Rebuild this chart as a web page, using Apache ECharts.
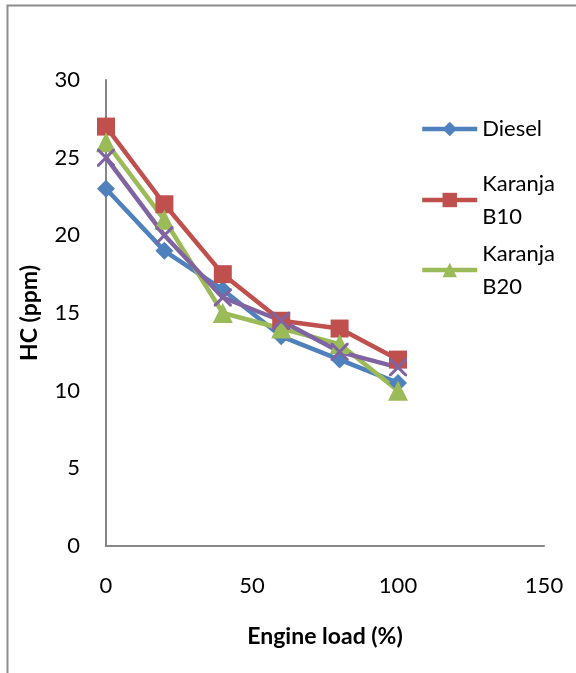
<!DOCTYPE html>
<html>
<head>
<meta charset="utf-8">
<script src="https://cdn.jsdelivr.net/npm/echarts@6/dist/echarts.min.js"></script>
<style>
  html, body { margin: 0; padding: 0; background: #fff; }
  #chart { width: 576px; height: 673px; }
</style>
</head>
<body>
<div id="chart"></div>
<script>
// Engine load (%) on the x axis
const loads = [0, 20, 40, 60, 80, 100];

// HC emissions (ppm) per fuel
const diesel = [23, 19, 16.5, 13.5, 12, 10.5];
const karanjaB10 = [27, 22, 17.5, 14.5, 14, 12];
const karanjaB20 = [26, 21, 15, 14, 13, 10];
const karanjaB30 = [25, 20, 16, 14.5, 12.5, 11.5];

const FONT = 'Lato';
const AXIS_GREY = '#868686';

const pairs = (ys) => loads.map((x, i) => [x, ys[i]]);

// thin "x" cross marker
const crossPath = 'path://M0,0L1.2,0L5,3.8L8.8,0L10,0L10,1.2L6.2,5L10,8.8L10,10L8.8,10L5,6.2L1.2,10L0,10L0,8.8L3.8,5L0,1.2Z';

function lineSeries(name, data, color, symbol, size) {
  return {
    name: name,
    type: 'line',
    data: pairs(data),
    symbol: symbol,
    symbolSize: size,
    showAllSymbol: true,
    lineStyle: { color: color, width: 4.5 },
    itemStyle: { color: color },
    emphasis: { disabled: true },
    animation: false
  };
}

function legendBlock(name, top, twoLines) {
  return {
    orient: 'vertical',
    left: 420,
    top: top,
    padding: 0,
    itemWidth: 55,
    itemHeight: 18,
    itemGap: 0,
    selectedMode: false,
    data: [name],
    lineStyle: { width: 4.5 },
    formatter: (n) => twoLines ? n.replace(' ', '\n') : n,
    textStyle: {
      fontFamily: FONT,
      fontSize: 22,
      color: '#000',
      lineHeight: 33,
      padding: twoLines ? [33, 0, 0, 0] : 0
    }
  };
}

const chart = echarts.init(document.getElementById('chart'), null, { renderer: 'canvas' });

chart.setOption({
  backgroundColor: '#fff',
  animation: false,
  graphic: [{
    type: 'rect',
    silent: true,
    shape: { x: 7.5, y: 5.5, width: 700, height: 800 },
    style: { fill: 'none', stroke: '#8c8c8c', lineWidth: 2 }
  }],
  grid: { left: 106, top: 80, right: 32, bottom: 127, containLabel: false },
  legend: [
    legendBlock('Diesel', 112.5, false),
    legendBlock('Karanja B10', 150.5, true),
    legendBlock('Karanja B20', 220.5, true)
  ],
  xAxis: {
    type: 'value',
    min: 0,
    max: 150,
    interval: 50,
    name: 'Engine load (%)',
    nameLocation: 'middle',
    nameGap: 79,
    nameTextStyle: { fontFamily: FONT, fontSize: 23, fontWeight: 'bold', color: '#000' },
    axisLine: { show: true, lineStyle: { color: AXIS_GREY, width: 2 } },
    axisTick: { show: false },
    splitLine: { show: false },
    axisLabel: { margin: 29, fontFamily: FONT, fontSize: 22, color: '#000' }
  },
  yAxis: {
    type: 'value',
    min: 0,
    max: 30,
    interval: 5,
    name: 'HC (ppm)',
    nameLocation: 'middle',
    nameGap: 65,
    nameRotate: 90,
    nameTextStyle: { fontFamily: FONT, fontSize: 23, fontWeight: 'bold', color: '#000' },
    axisLine: { show: true, lineStyle: { color: AXIS_GREY, width: 2 } },
    axisTick: { show: false },
    splitLine: { show: false },
    axisLabel: { margin: 26, fontFamily: FONT, fontSize: 22, color: '#000' }
  },
  series: [
    lineSeries('Diesel', diesel, '#4F81BD', 'diamond', 18),
    lineSeries('Karanja B10', karanjaB10, '#C0504D', 'rect', 18),
    lineSeries('Karanja B20', karanjaB20, '#9BBB59', 'triangle', 20),
    lineSeries('Karanja B30', karanjaB30, '#8064A2', crossPath, 18)
  ]
});
</script>
</body>
</html>
